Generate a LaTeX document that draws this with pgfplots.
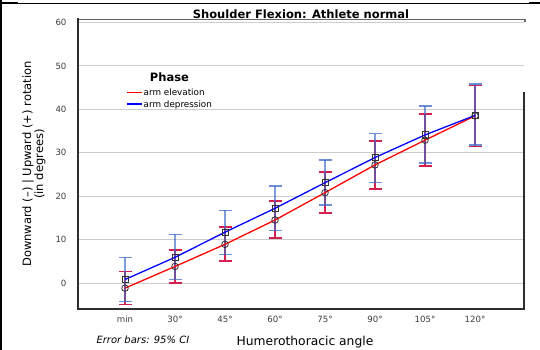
\documentclass[border=0pt]{standalone}
\usepackage{fontspec}
\setmainfont{DejaVu Sans}
\usepackage{pgfplots}
\pgfplotsset{compat=1.18}
\usepackage{pgfplotstable}

\definecolor{errred}{RGB}{212,32,78}
\definecolor{errblue}{RGB}{60,105,200}
\definecolor{axisdark}{RGB}{45,45,45}
\definecolor{ticktext}{RGB}{60,60,60}

% arm elevation: mean, lower and upper 95% CI
\pgfplotstableread{
x y lo hi
0 -1.2 -5.0 2.6
1 3.8 0.0 7.6
2 8.9 5.0 12.9
3 14.5 10.3 18.9
4 20.8 16.1 25.6
5 27.2 21.7 32.7
6 32.9 27.0 38.9
7 38.5 31.4 45.5
}\elev

% arm depression
\pgfplotstableread{
x y lo hi
0 0.8 -4.3 5.9
1 5.9 0.8 11.2
2 11.7 6.6 16.7
3 17.2 12.1 22.4
4 23.1 17.9 28.3
5 28.9 23.1 34.4
6 34.1 27.6 40.7
7 38.6 31.8 45.9
}\depr

\begin{document}
\begin{tikzpicture}[x=1pt,y=1pt]
\path[use as bounding box] (0,0) rectangle (540,350);
% screen-capture edges
\fill[black] (0,0) rectangle (2,350);
\fill[black] (0,346) rectangle (540,347);
\fill[black] (0,346) rectangle (18,348.3);
\fill[black] (529,346) rectangle (540,348.3);

\begin{axis}[
  at={(78pt,41pt)}, anchor=south west,
  scale only axis, width=446pt, height=289.5pt,
  xmin=-0.94, xmax=7.98, ymin=-6, ymax=60.7,
  xtick={0,...,7},
  xticklabels={min,30°,45°,60°,75°,90°,105°,120°},
  ytick={0,10,...,60},
  major tick length=0pt,
  ymajorgrids,
  grid style={color=black!20, line width=0.9pt},
  axis line style={draw=none},
  /pgf/number format/assume math mode=true,
  tick label style={font=\fontsize{8.6}{10}\selectfont, text=ticktext},
  xticklabel style={text height=6.3pt, text depth=0pt, yshift=-3.3pt},
  yticklabel style={xshift=-8pt},
  clip=false,
]

% error bars
\addplot[forget plot, draw=none, mark=none,
  error bars/.cd, y dir=both, y explicit,
  error bar style={draw=errred, line width=1.3pt},
  error mark options={rotate=90, draw=errred, line width=1.6pt, mark size=6.5pt}]
  table[x=x, y=y, y error plus expr=\thisrow{hi}-\thisrow{y},
        y error minus expr=\thisrow{y}-\thisrow{lo}] {\elev};
\addplot[forget plot, draw=none, mark=none,
  error bars/.cd, y dir=both, y explicit,
  error bar style={draw=errblue, line width=1.3pt, draw opacity=0.65},
  error mark options={rotate=90, draw=errblue, line width=1.6pt, mark size=6.5pt, draw opacity=0.75}]
  table[x=x, y=y, y error plus expr=\thisrow{hi}-\thisrow{y},
        y error minus expr=\thisrow{y}-\thisrow{lo}] {\depr};

% means
\addplot[forget plot, red, line width=1.3pt, mark=o,
  mark options={draw=black!80, fill=none, line width=0.8pt, mark size=3.3pt}]
  table[x=x, y=y] {\elev};
\addplot[forget plot, blue, line width=1.3pt, mark=square,
  mark options={draw=black!80, fill=none, line width=0.8pt, mark size=3.1pt}]
  table[x=x, y=y] {\depr};

% frame
\draw[black!60, line width=1.2pt] (rel axis cs:0,1) -- (rel axis cs:1.002,1) -- (rel axis cs:1.002,0.99);
\draw[axisdark, line width=1.9pt] (rel axis cs:0,1.005) -- (rel axis cs:0,0);
\draw[axisdark, line width=1.5pt] (rel axis cs:-0.002,0) -- (rel axis cs:1,0) -- (axis cs:7.98,44);
\end{axis}

% legend
\node[anchor=base, font=\fontsize{11.5}{13}\selectfont\bfseries] at (169.5,268.5) {Phase};
\draw[red, line width=1.4pt] (127,257.5) -- (142,257.5);
\node[anchor=base west, inner sep=0pt, font=\fontsize{8.8}{10}\selectfont] at (143.5,254.3) {arm elevation};
\draw[blue, line width=1.4pt] (127,246) -- (142,246);
\node[anchor=base west, inner sep=0pt, font=\fontsize{8.8}{10}\selectfont] at (143.5,242.6) {arm depression};

\node[anchor=base, font=\fontsize{11.5}{13}\selectfont\bfseries] at (301,331) {Shoulder Flexion: Athlete normal};
\node[rotate=90, font=\fontsize{11.5}{13}\selectfont] at (28,186) {Downward (–) | Upward (+) rotation};
\node[rotate=90, font=\fontsize{11.5}{13}\selectfont] at (40,186) {(in degrees)};
\node[anchor=base, font=\fontsize{12.3}{14}\selectfont] at (305,4) {Humerothoracic angle};
\node[anchor=base west, font=\fontsize{10}{12}\selectfont\itshape] at (93,6.7) {Error bars: 95\% CI};
\end{tikzpicture}
\end{document}
